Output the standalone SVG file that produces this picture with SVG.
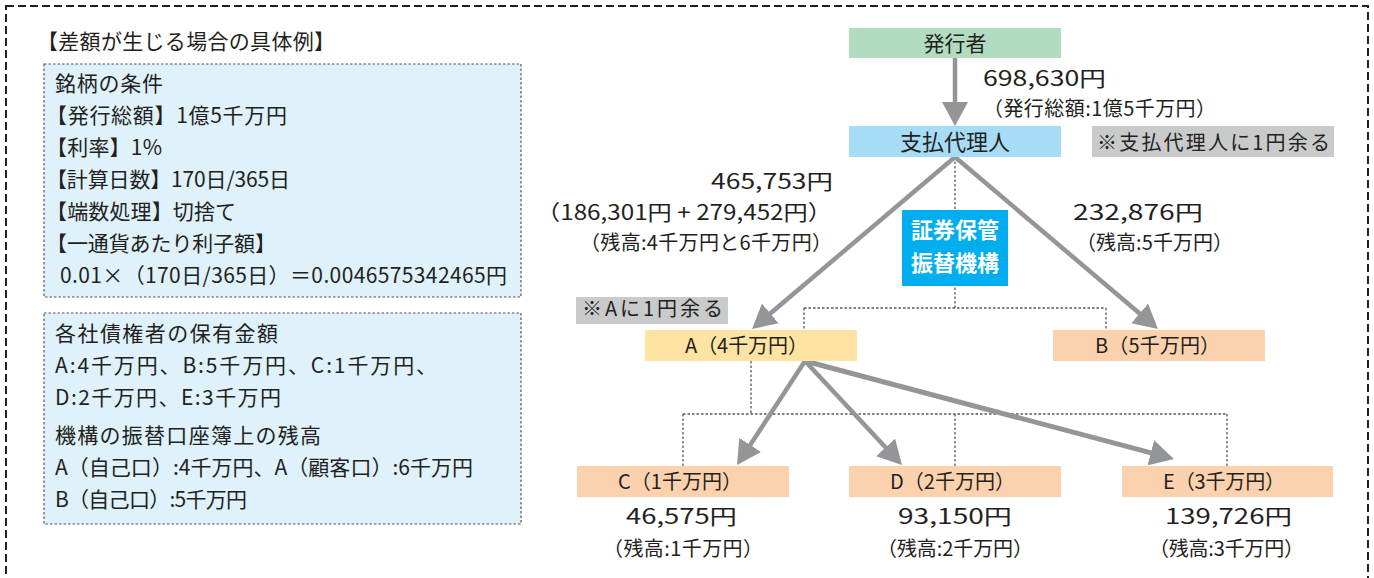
<svg xmlns="http://www.w3.org/2000/svg" width="1374" height="578" viewBox="0 0 1374 578">
<style>
text{font-family:"Noto Sans CJK JP","Noto Sans",sans-serif;fill:#231f20}
.l{font-size:21px}
.r{font-size:20px}
.num{font-size:21px}
.n{font-size:21px}
.w{font-size:22px;fill:#ffffff;font-weight:bold}
.info{fill:#dff1fb;stroke:#595757;stroke-width:1.2;stroke-dasharray:2.5 2}
.dot{fill:none;stroke:#595757;stroke-width:1.3;stroke-dasharray:2.5 2}
.arr{fill:none;stroke:#939598;stroke-width:4.5;marker-end:url(#ah)}
.peach{fill:#fcd2ae}
.note{fill:#c9caca}
</style>
<defs>
<marker id="ah" markerUnits="userSpaceOnUse" markerWidth="24" markerHeight="26" viewBox="0 0 24 26" refX="12" refY="13" orient="auto">
<path d="M0,0 L24,13 L0,26 z" fill="#939598"/>
</marker>
</defs>
<rect x="6" y="6" width="1362" height="620" fill="none" stroke="#231f20" stroke-width="2" stroke-dasharray="8 4"/>

<g id="left-panel">
<text x="37" y="49" style="font-size:21px" textLength="298">【差額が生じる場合の具体例】</text>
<rect class="info" x="44" y="64" width="477" height="233"/>
<text class="l" x="55" y="91" textLength="108">銘柄の条件</text>
<text class="l" x="46" y="123" textLength="241">【発行総額】1億5千万円</text>
<text class="l" x="46" y="155" textLength="116">【利率】1%</text>
<text class="l" x="46" y="187" textLength="244">【計算日数】170日/365日</text>
<text class="l" x="46" y="219" textLength="190">【端数処理】切捨て</text>
<text class="l" x="46" y="251" textLength="230">【一通貨あたり利子額】</text>
<text class="l" x="60" y="283" textLength="447">0.01×（170日/365日）＝0.0046575342465円</text>
<rect class="info" x="44" y="313" width="477" height="211"/>
<text class="l" x="55" y="341" textLength="223">各社債権者の保有金額</text>
<text class="l" x="55" y="373" textLength="382">A:4千万円、B:5千万円、C:1千万円、</text>
<text class="l" x="55" y="405" textLength="226">D:2千万円、E:3千万円</text>
<text class="l" x="55" y="443" textLength="266">機構の振替口座簿上の残高</text>
<text class="l" x="55" y="475" textLength="418">A（自己口）:4千万円、A（顧客口）:6千万円</text>
<text class="l" x="55" y="507" textLength="192">B（自己口）:5千万円</text>
</g>

<g id="connectors">
<path class="dot" d="M955,157 V308 M804,308 H1106 M804,308 V330 M1106,308 V330"/>
<path class="dot" d="M751,361 V414 M683,414 H1227 M683,414 V466 M955,414 V466 M1227,414 V466"/>
<line class="arr" x1="955" y1="58" x2="955" y2="114"/>
<line class="arr" x1="955" y1="157" x2="761.2" y2="321.2"/>
<line class="arr" x1="955" y1="157" x2="1148.8" y2="321.2"/>
<line class="arr" x1="805" y1="361" x2="743.6" y2="455"/>
<line class="arr" x1="805" y1="361" x2="893.8" y2="456.2"/>
<line class="arr" x1="805" y1="361" x2="1162.4" y2="455.9" style="stroke-width:5"/>
</g>

<g id="label-issuer-amount">
<text class="num" x="983" y="86" textLength="123" lengthAdjust="spacingAndGlyphs">698,630円</text>
<text class="r" x="983" y="116" textLength="233">（発行総額:1億5千万円）</text>
</g>
<g id="label-a-amount">
<text class="num" x="711" y="189" textLength="122" lengthAdjust="spacingAndGlyphs">465,753円</text>
<text class="num" x="536" y="220" textLength="296" lengthAdjust="spacingAndGlyphs">（186,301円 + 279,452円）</text>
<text class="r" x="580" y="250" textLength="252">（残高:4千万円と6千万円）</text>
</g>
<g id="label-b-amount">
<text class="num" x="1073" y="220" textLength="130" lengthAdjust="spacingAndGlyphs">232,876円</text>
<text class="r" x="1076" y="250" textLength="157">（残高:5千万円）</text>
</g>

<g id="node-issuer">
<rect x="849" y="28" width="212" height="30" fill="#b2dcc0"/>
<text class="n" x="955" y="51" text-anchor="middle">発行者</text>
</g>
<g id="node-agent">
<rect x="849" y="126" width="212" height="31" fill="#a6dcf6"/>
<text class="n" x="955" y="150" text-anchor="middle" style="font-size:22px">支払代理人</text>
</g>
<g id="note-agent">
<rect class="note" x="1092" y="126" width="242" height="31"/>
<text class="r" x="1097" y="150" textLength="233">※支払代理人に1円余る</text>
</g>
<g id="node-jasdec">
<rect x="902" y="210" width="106" height="76" fill="#00aeef"/>
<text class="w" x="955" y="238" text-anchor="middle">証券保管</text>
<text class="w" x="955" y="271" text-anchor="middle">振替機構</text>
</g>
<g id="note-a">
<rect class="note" x="576" y="297" width="152" height="27"/>
<text class="r" x="582" y="316" textLength="141">※Aに1円余る</text>
</g>
<g id="node-a">
<rect x="645" y="330" width="212" height="31" fill="#fee3a2"/>
<text class="r" x="685" y="353" textLength="123">A（4千万円）</text>
</g>
<g id="node-b">
<rect class="peach" x="1053" y="330" width="212" height="31"/>
<text class="r" x="1095" y="353" textLength="125">B（5千万円）</text>
</g>
<g id="node-c">
<rect class="peach" x="577" y="466" width="212" height="31"/>
<text class="r" x="618" y="489" textLength="124">C（1千万円）</text>
<text class="num" x="626" y="524" textLength="111" lengthAdjust="spacingAndGlyphs">46,575円</text>
<text class="r" x="603" y="556" textLength="160">（残高:1千万円）</text>
</g>
<g id="node-d">
<rect class="peach" x="849" y="466" width="212" height="31"/>
<text class="r" x="890" y="489" textLength="125">D（2千万円）</text>
<text class="num" x="898" y="524" textLength="114" lengthAdjust="spacingAndGlyphs">93,150円</text>
<text class="r" x="877" y="556" textLength="156">（残高:2千万円）</text>
</g>
<g id="node-e">
<rect class="peach" x="1122" y="466" width="211" height="31"/>
<text class="r" x="1163" y="489" textLength="122">E（3千万円）</text>
<text class="num" x="1165" y="524" textLength="127" lengthAdjust="spacingAndGlyphs">139,726円</text>
<text class="r" x="1149" y="556" textLength="155">（残高:3千万円）</text>
</g>
</svg>
